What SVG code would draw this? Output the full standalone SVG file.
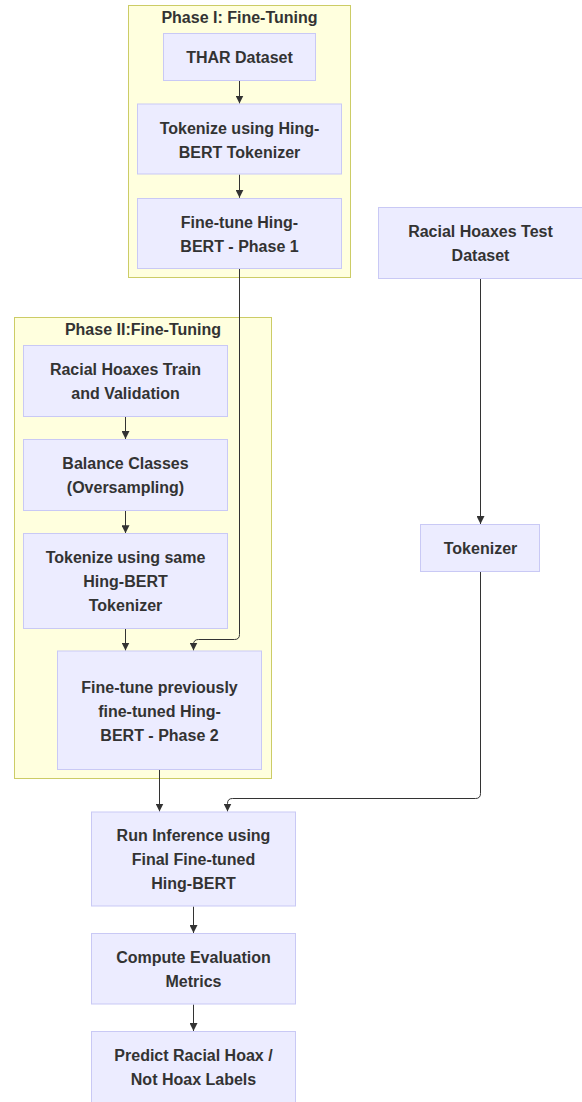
<svg xmlns="http://www.w3.org/2000/svg" width="582" height="1102" viewBox="0 0 582 1102">
<style>
.cluster{fill:#ffffde;stroke:#cccc66;stroke-width:1}
.node rect{fill:#ececff;stroke:#c9c9f5;stroke-width:1}
text{font-family:"Liberation Sans",Arial,sans-serif;font-size:16px;font-weight:bold;fill:#333333;text-anchor:middle}
.edge{fill:none;stroke:#333333;stroke-width:1}
</style>
<defs>
<marker id="arr" viewBox="0 0 10 10" refX="10" refY="5" markerWidth="8" markerHeight="8" markerUnits="userSpaceOnUse" orient="auto">
<path d="M0,0 L10,5 L0,10 z" fill="#333333"/>
</marker>
</defs>
<rect class="cluster" x="128.5" y="5.5" width="222" height="272"/>
<text x="239.5" y="23">Phase I: Fine-Tuning</text>
<rect class="cluster" x="14.5" y="317.5" width="257" height="461"/>
<text x="143" y="335">Phase II:Fine-Tuning</text>
<g id="connectors">
<path class="edge" d="M239.5,80.5 L239.5,103.5" marker-end="url(#arr)"/>
<path class="edge" d="M239.5,174.5 L239.5,197.8" marker-end="url(#arr)"/>
<path class="edge" d="M239.5,268.5 L239.5,634.5 Q239.5,639.5 234.5,639.5 L198.5,639.5 Q193.5,639.5 193.5,644.5 L193.5,650.5" marker-end="url(#arr)"/>
<path class="edge" d="M125.5,417 L125.5,439" marker-end="url(#arr)"/>
<path class="edge" d="M125.5,510.5 L125.5,533.2" marker-end="url(#arr)"/>
<path class="edge" d="M125.5,628.5 L125.5,650.5" marker-end="url(#arr)"/>
<path class="edge" d="M480.5,278.5 L480.5,524" marker-end="url(#arr)"/>
<path class="edge" d="M159.5,769.5 L159.5,811.5" marker-end="url(#arr)"/>
<path class="edge" d="M480.5,572 L480.5,793.5 Q480.5,798.5 475.5,798.5 L232.5,798.5 Q227.5,798.5 227.5,803.5 L227.5,811.5" marker-end="url(#arr)"/>
<path class="edge" d="M193.5,906.5 L193.5,933" marker-end="url(#arr)"/>
<path class="edge" d="M193.5,1004.5 L193.5,1031" marker-end="url(#arr)"/>
</g>
<g id="thar" class="node"><rect x="163.5" y="33.5" width="152" height="47"/><text x="239.5" y="62.5">THAR Dataset</text></g>
<g id="tok1" class="node"><rect x="137.5" y="104" width="204" height="70"/><text x="239.5" y="133.5">Tokenize using Hing-</text><text x="239.5" y="157.5">BERT Tokenizer</text></g>
<g id="ft1" class="node"><rect x="137.5" y="198.5" width="204" height="70"/><text x="239.5" y="227.5">Fine-tune Hing-</text><text x="239.5" y="251.5">BERT - Phase 1</text></g>
<g id="train" class="node"><rect x="23.5" y="345.5" width="204" height="71"/><text x="125.5" y="375">Racial Hoaxes Train</text><text x="125.5" y="399">and Validation</text></g>
<g id="balance" class="node"><rect x="23.5" y="439.5" width="204" height="71"/><text x="125.5" y="469">Balance Classes</text><text x="125.5" y="493">(Oversampling)</text></g>
<g id="tok2" class="node"><rect x="23.5" y="533.5" width="204" height="95"/><text x="125.5" y="563">Tokenize using same</text><text x="125.5" y="587">Hing-BERT</text><text x="125.5" y="611">Tokenizer</text></g>
<g id="ft2" class="node"><rect x="57.5" y="651" width="204" height="118.5"/><text x="159.5" y="693">Fine-tune previously</text><text x="159.5" y="717">fine-tuned Hing-</text><text x="159.5" y="741">BERT - Phase 2</text></g>
<g id="test" class="node"><rect x="378.5" y="207.5" width="204" height="71"/><text x="480.5" y="237">Racial Hoaxes Test</text><text x="480.5" y="261">Dataset</text></g>
<g id="tok3" class="node"><rect x="420.5" y="524.5" width="119" height="47"/><text x="480.5" y="553.5">Tokenizer</text></g>
<g id="infer" class="node"><rect x="91.5" y="812" width="204" height="94"/><text x="193.5" y="841">Run Inference using</text><text x="193.5" y="865">Final Fine-tuned</text><text x="193.5" y="889">Hing-BERT</text></g>
<g id="eval" class="node"><rect x="91.5" y="933.5" width="204" height="70.5"/><text x="193.5" y="963">Compute Evaluation</text><text x="193.5" y="987">Metrics</text></g>
<g id="predict" class="node"><rect x="91.5" y="1031.5" width="204" height="71"/><text x="193.5" y="1061">Predict Racial Hoax /</text><text x="193.5" y="1085">Not Hoax Labels</text></g>
</svg>
